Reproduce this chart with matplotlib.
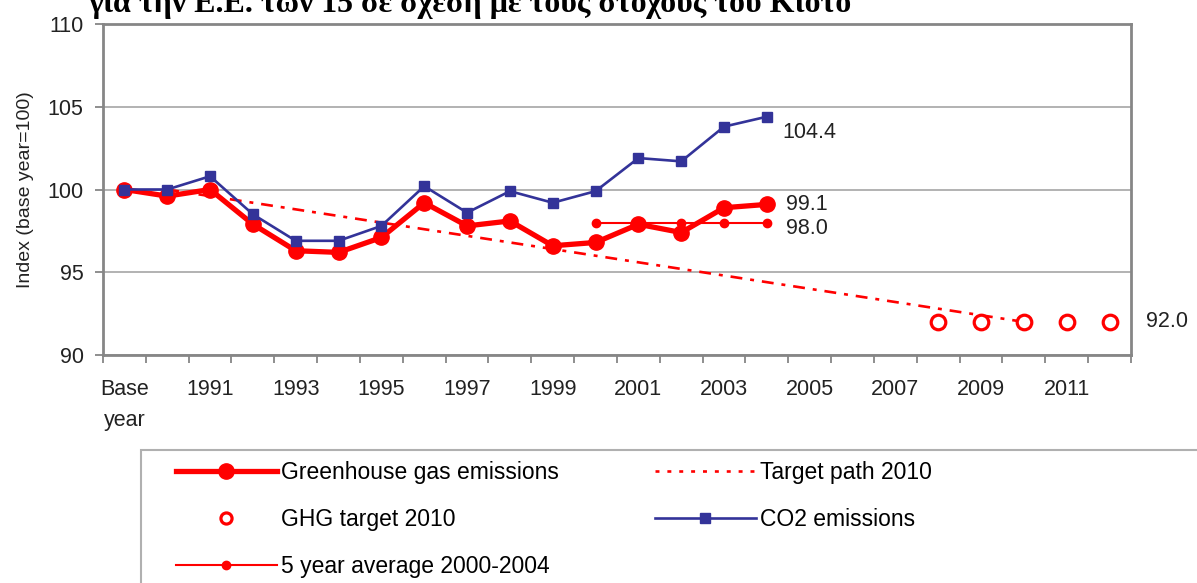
import numpy as np
import matplotlib.pyplot as plt
from matplotlib.lines import Line2D
from matplotlib.patches import Rectangle

plt.rcParams['font.family'] = ['Liberation Sans', 'DejaVu Sans']
plt.rcParams['font.size'] = 15.5

"Data"
categories = ['Base\nyear'] + [str(y) for y in range(1990, 2013)]
ghg_years = ['Base\nyear', '1990', '1991', '1992', '1993', '1994', '1995', '1996',
             '1997', '1998', '1999', '2000', '2001', '2002', '2003', '2004']
ghg = [100.0, 99.6, 100.0, 97.9, 96.3, 96.2, 97.1, 99.2, 97.8, 98.1, 96.6, 96.8,
       97.9, 97.4, 98.9, 99.1]
co2 = [100.0, 100.0, 100.8, 98.5, 96.9, 96.9, 97.8, 100.2, 98.6, 99.9, 99.2, 99.9,
       101.9, 101.7, 103.8, 104.4]
avg_years = ['2000', '2001', '2002', '2003', '2004']
avg_5yr = [98.0, 98.0, 98.0, 98.0, 98.0]
path_years = ['1990', '2010']
target_path = [100.0, 92.0]
target_years = ['2008', '2009', '2010', '2011', '2012']
ghg_target = [92.0, 92.0, 92.0, 92.0, 92.0]
tick_labels = ['Base\nyear', '1991', '1993', '1995', '1997', '1999', '2001', '2003',
               '2005', '2007', '2009', '2011']

title = 'για την Ε.Ε. των 15 σε σχέση με τους στόχους του Κιότο'

red = '#ff0000'
blue = '#333399'
spine_col = '#868686'
txt_col = '#222222'

def pos(labels):
    return [categories.index(l) for l in labels]

fig = plt.figure(figsize=(11.97, 5.83), dpi=100)
ax = fig.add_axes([103/1197, 1-355/583, (1131-103)/1197, (355-24)/583])

ax.plot(pos(path_years), target_path, color=red, lw=1.9, dashes=(4.5, 3, 1.5, 3), zorder=2)
ax.plot(pos(ghg_years), ghg, color=red, lw=3.8, marker='o', ms=11, zorder=3)
ax.plot(pos(ghg_years), co2, color=blue, lw=1.9, marker='s', ms=7, zorder=4)
ax.plot(pos(avg_years), avg_5yr, color=red, lw=1.5, marker='o', ms=6, zorder=5)
ax.plot(pos(target_years), ghg_target, ls='none', marker='o', ms=10.5, mfc='white',
        mec=red, mew=2.3, zorder=5)

# value labels
ax.annotate('104.4', (pos(['2004'])[0], co2[-1]), xytext=(11, -11.5), textcoords='offset points',
            va='center', ha='left', color=txt_col)
ax.annotate('99.1', (pos(['2004'])[0], ghg[-1]), xytext=(14, 0), textcoords='offset points',
            va='center', ha='left', color=txt_col)
ax.annotate('98.0', (pos(['2004'])[0], avg_5yr[-1]), xytext=(14, -4), textcoords='offset points',
            va='center', ha='left', color=txt_col)
ax.annotate('92.0', (pos(['2012'])[0], ghg_target[-1]), xytext=(26, 0), textcoords='offset points',
            va='center', ha='left', color=txt_col, annotation_clip=False)

ax.set_xlim(-0.5, len(categories) - 0.5)
ax.set_ylim(90, 110)
ax.set_yticks([90, 95, 100, 105, 110])
ax.set_xticks(pos(tick_labels))
ax.set_xticklabels(tick_labels, linespacing=1.65)
ax.set_xticks(np.arange(-0.5, len(categories)), minor=True)
ax.tick_params(axis='x', which='major', length=0, pad=17, colors=txt_col)
ax.tick_params(axis='x', which='minor', length=6, width=1.3, color=spine_col)
ax.tick_params(axis='y', length=6, width=1.3, color=spine_col, pad=8, labelcolor=txt_col)
ax.grid(axis='y', color='#a6a6a6', lw=1.2)
ax.set_axisbelow(True)
for s in ax.spines.values():
    s.set_color(spine_col)
    s.set_linewidth(2)
ax.set_ylabel('Index (base year=100)', fontsize=14, color=txt_col, labelpad=10)

# title, cut off at the top like the source
fig.text(88/1197, 1-12/583, title, family='Liberation Serif', weight='bold', fontsize=23,
         va='baseline', ha='left')

# legend box
fig.patches.append(Rectangle((141/1197, -0.1), 1.0, 0.1 + (583-450)/583, transform=fig.transFigure,
                             fill=False, ec='#b0b0b0', lw=1.5))
h1 = [Line2D([], [], color=red, lw=3.8, marker='o', ms=11),
      Line2D([], [], ls='none', marker='o', ms=8, mfc='white', mec=red, mew=2.3),
      Line2D([], [], color=red, lw=1.5, marker='o', ms=6)]
h2 = [Line2D([], [], color=red, lw=1.9, ls=(0, (1.5, 3))),
      Line2D([], [], color=blue, lw=1.9, marker='s', ms=7)]
leg_kw = dict(loc='upper left', frameon=False, fontsize=16.5, handlelength=4.4, handletextpad=0.2,
              labelspacing=1.05, borderpad=0, borderaxespad=0)
leg1 = fig.legend(h1, ['Greenhouse gas emissions', 'GHG target 2010', '5 year average 2000-2004'],
                  bbox_to_anchor=(176/1197, 1-461/583), **leg_kw)
leg2 = fig.legend(h2, ['Target path 2010', 'CO2 emissions'],
                  bbox_to_anchor=(655/1197, 1-461/583), **leg_kw)

fig.savefig('out.png', dpi=100)
